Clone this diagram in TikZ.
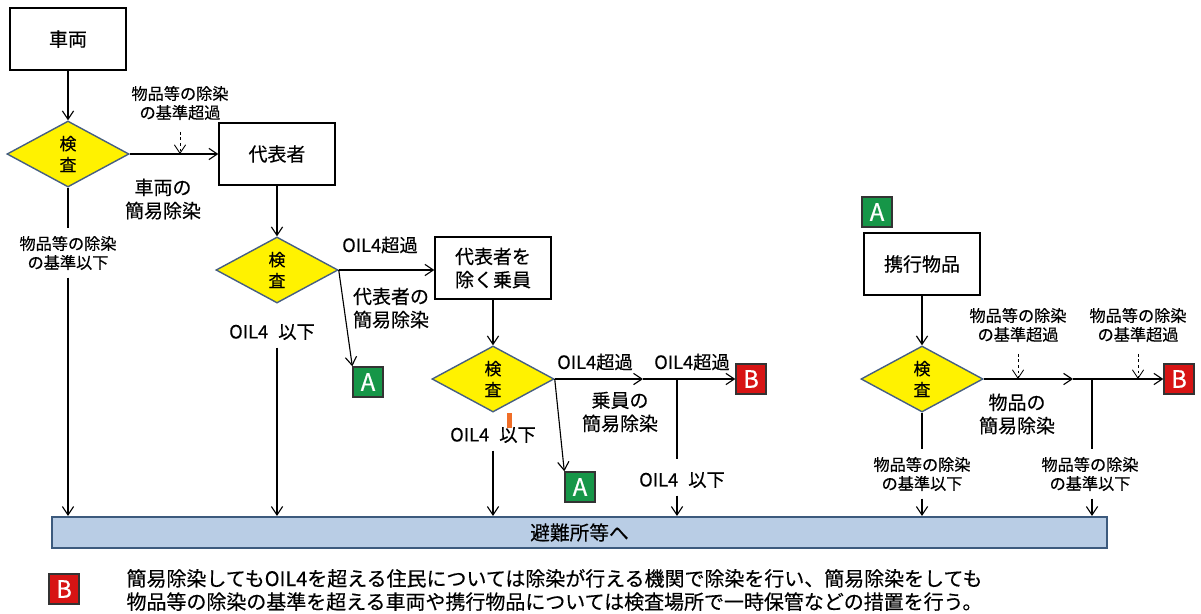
\documentclass[tikz,border=0pt]{standalone}
\usepackage{fontspec}
\setmainfont{Noto Sans CJK JP}[FakeBold=0.4]
\usepackage{tikz}
\usetikzlibrary{positioning, shapes.geometric, arrows.meta}
\definecolor{chkline}{RGB}{70,95,130}
\definecolor{agreen}{RGB}{22,150,72}
\definecolor{bred}{RGB}{215,20,20}
\definecolor{barfill}{RGB}{185,205,229}
\definecolor{barline}{RGB}{60,90,125}
\definecolor{tickorange}{RGB}{240,110,40}
\tikzset{box/.style={draw, line width=1.5pt, fill=white, minimum width=2.88cm, minimum height=1.57cm, align=center, font=\fontsize{13.5}{16.5}\selectfont}}
\tikzset{chk/.style={diamond, draw=chkline, line width=1pt, fill=yellow, minimum width=3.05cm, minimum height=1.65cm, inner sep=0pt, align=center, font=\fontsize{12}{15}\selectfont}}
\tikzset{tagA/.style={draw=black!80, line width=1pt, fill=agreen, text=white, minimum size=0.75cm, inner sep=0pt, font=\fontsize{17}{17}\selectfont}}
\tikzset{tagB/.style={tagA, fill=bred}}
\tikzset{sm/.style={align=center, inner sep=5pt, font=\fontsize{11.5}{13.5}\selectfont}}
\tikzset{md/.style={align=center, inner sep=1pt, font=\fontsize{13.5}{16.5}\selectfont}}
\tikzset{ol/.style={inner sep=1pt, font=\fontsize{13}{15}\selectfont}}
\tikzset{dotarr/.style={->, dash pattern=on 2pt off 2pt, line width=0.6pt, shorten <=3pt}}
\tikzset{bar/.style={draw=barline, line width=1.5pt, fill=barfill, minimum width=26.375cm, minimum height=0.775cm, font=\fontsize{14}{16}\selectfont}}

\begin{document}
\begin{tikzpicture}[x=0.025cm, y=-0.025cm, line width=0.8pt, >={Straight Barb[length=6pt,width=8pt]}]
\useasboundingbox (0,0) rectangle (1201,613);
% vehicle
\node[box] (V) at (68,39) {車両};
\node[chk] (D1) at (68,154) {検\\査};
\node[box] (R) at (277,154) {代表者};
\node[sm] (N1) at (180,103) {物品等の除染\\の基準超過};
\node[md] (L1) at (163,199) {車両の\\簡易除染};
\node[sm] (Q1) at (68,253) {物品等の除染\\の基準以下};
\node[bar] (S) at (579.5,532.5) {避難所等へ};
%
\draw[->] (V) -- (D1);
\draw[->] (D1) -- (R);
\draw[dotarr] (N1.south) -- (N1.south |- D1);
\draw (D1) -- (Q1);
\draw[->] (Q1) -- (Q1 |- S.north);
% representative
\node[chk] (D2) at (277,270) {検\\査};
\node[box] (P) at (493,268) {代表者を\\除く乗員};
\node[ol] (O1) at (380,245) {OIL4超過};
\node[tagA] (A1) at (368,382) {A};
\node[md] (L2) at (391,308) {代表者の\\簡易除染};
\node[ol] (Q2) at (272,332) {OIL4\hspace{0.55em}以下};
%
\draw[->] (R) -- (D2);
\draw[->] (D2.east) -- (D2.east -| P.west);
\draw[->] (D2.east) -- (A1.north west);
\draw[->, shorten <=4pt] (Q2.south -| D2) -- (D2 |- S.north);
% passengers
\node[chk] (D3) at (493,379) {検\\査};
\coordinate (K1) at (643,379);
\coordinate (J1) at (677,379);
\node[tagB] (B1) at (751,379) {B};
\node[ol] (O2) at (595,362) {OIL4超過};
\node[ol] (O3) at (692,362) {OIL4超過};
\node[md] (L3) at (620,412) {乗員の\\簡易除染};
\node[ol] (Q3) at (493,435) {OIL4\hspace{0.55em}以下};
\node[ol] (Q4) at (682,480) {OIL4\hspace{0.55em}以下};
\node[tagA] (A2) at (580,487) {A};
\fill[tickorange] (507,413) rectangle (512,428);
%
\draw[->] (P) -- (D3);
\draw[->] (D3.east) -- (K1);
\draw[->] (K1) -- (B1);
\draw[->] (D3.east) -- (A2.north west);
\draw[->, shorten <=4pt] (Q3.south -| D3) -- (D3 |- S.north);
\draw[shorten >=8pt] (J1) -- (J1 |- Q4.north);
\draw[->, shorten <=4pt] (J1 |- Q4.south) -- (J1 |- S.north);
% belongings
\node[tagA] (A3) at (877,212) {A};
\node[box] (G) at (922,264) {携行物品};
\node[chk] (D4) at (922,379) {検\\査};
\coordinate (K2) at (1073,379);
\coordinate (J2) at (1092,379);
\node[tagB] (B2) at (1179,379) {B};
\node[sm] (N2) at (1018,325) {物品等の除染\\の基準超過};
\node[sm] (N3) at (1138,325) {物品等の除染\\の基準超過};
\node[md] (L4) at (1017,414) {物品の\\簡易除染};
\node[sm] (Q5) at (922,474) {物品等の除染\\の基準以下};
\node[sm] (Q6) at (1090,474) {物品等の除染\\の基準以下};
%
\draw[->] (G) -- (D4);
\draw[->] (D4.east) -- (K2);
\draw[->] (K2) -- (B2);
\draw[dotarr] (N2.south) -- (N2.south |- D4);
\draw[dotarr] (N3.south) -- (N3.south |- D4);
\draw (D4) -- (Q5);
\draw[->] (Q5) -- (Q5 |- S.north);
\draw (J2) -- (J2 |- Q6.north);
\draw[->] (J2 |- Q6.south) -- (J2 |- S.north);
% note
\node[tagB] (B3) at (64,589) {B};
\node[anchor=west, align=left, inner sep=0pt, font=\fontsize{14.2}{16.5}\selectfont] (T) at (126,590) {簡易除染してもOIL4を超える住民については除染が行える機関で除染を行い、簡易除染をしても\\物品等の除染の基準を超える車両や携行物品については検査場所で一時保管などの措置を行う。};
\end{tikzpicture}
\end{document}
